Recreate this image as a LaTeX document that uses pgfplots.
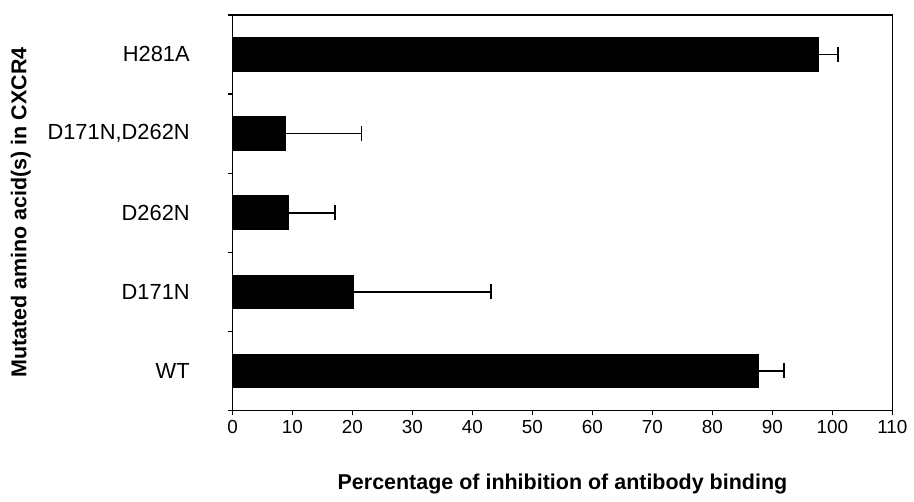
\documentclass[border=0pt]{standalone}
\usepackage{pgfplots}
\pgfplotsset{compat=1.18}
\usepackage{fontspec}
\setmainfont{Liberation Sans}
\begin{document}
\begin{tikzpicture}
\begin{axis}[
  name=ax,
  scale only axis,
  width=332pt, height=199pt,
  xbar, bar width=0.415,
  xmin=0, xmax=110, ymin=-0.5, ymax=4.5,
  xtick={0,10,...,110},
  ytick={-0.5,0.5,1.5,2.5,3.5,4.5},
  yticklabels={},
  extra y ticks={0,1,2,3,4},
  extra y tick labels={WT,D171N,D262N,{D171N,D262N},H281A},
  extra y tick style={major tick length=0pt,
     yticklabel style={xshift=-18pt, font=\fontsize{11}{13}\selectfont}},
  xtick pos=bottom, ytick pos=left,
  tick align=outside,
  major tick length=2.5pt,
  tick style={black, line width=0.6pt},
  axis line style={line width=0.8pt},
  /pgf/number format/assume math mode=true,
  xticklabel style={font=\fontsize{9.5}{11}\selectfont, yshift=1pt},
  xlabel={\bfseries Percentage of inhibition of antibody binding},
  ylabel={\bfseries Mutated amino acid(s) in CXCR4},
  label style={font=\fontsize{10.8}{12}\selectfont},
  xlabel style={at={(0.5,0)}, anchor=base, yshift=-40pt},
  ylabel style={at={(0,0.5)}, anchor=center, yshift=106.5pt},
  /pgfplots/error bars/error bar style={line width=0.9pt, draw=black},
  /pgfplots/error bars/error mark options={mark size=3.75pt, line width=0.9pt, draw=black, rotate=90},
  clip=false,
]
\addplot[fill=black, draw=black, line width=0.75pt,
  error bars/.cd, x dir=plus, x explicit]
coordinates {
  (87.6,0) +- (4.3,0)
  (20.1,1) +- (23.0,0)
  (9.3,2) +- (7.8,0)
  (8.8,3) +- (12.7,0)
  (97.6,4) +- (3.3,0)
};
\end{axis}
\path (ax.south west) ++(-117pt,-41.5pt) coordinate (bl);
\path (ax.north east) ++(8pt,7.5pt) coordinate (tr);
\path (bl) rectangle (tr);
\end{tikzpicture}
\end{document}
